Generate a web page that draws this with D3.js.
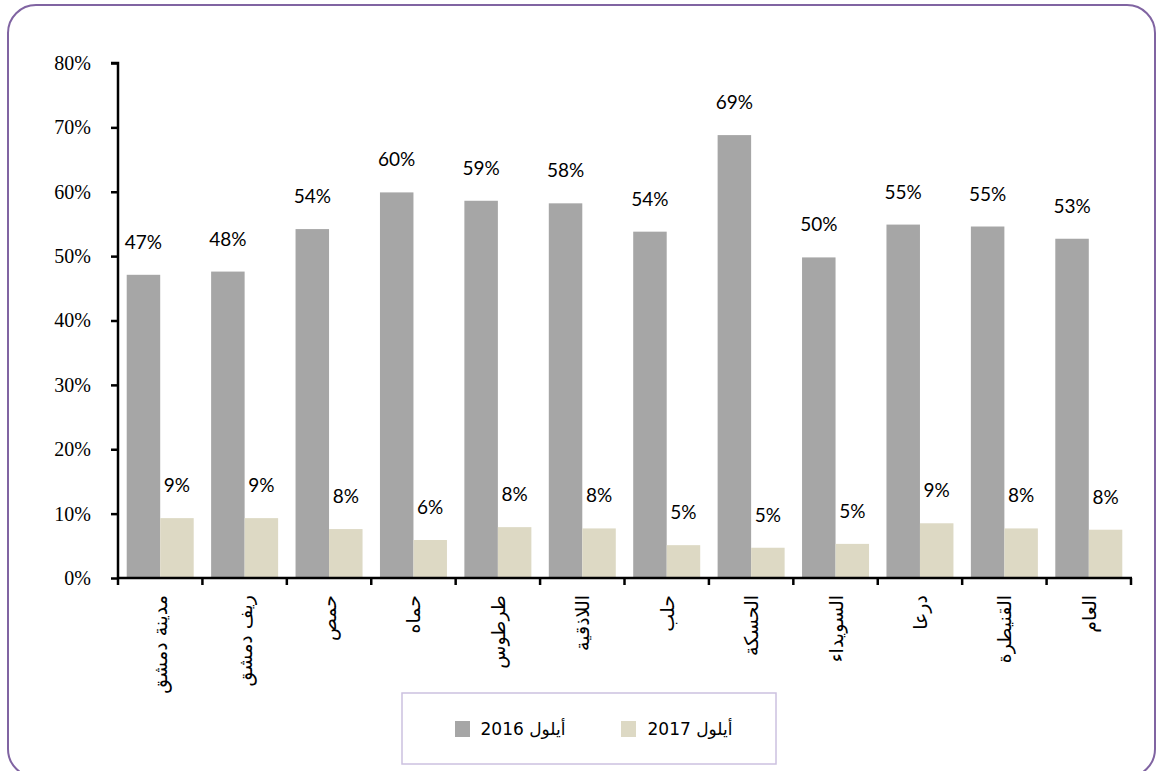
<!DOCTYPE html>
<html><head><meta charset="utf-8">
<script src="https://cdn.jsdelivr.net/npm/d3@7"></script>
<style>body{margin:0;background:#fff;}svg{display:block;}</style>
</head><body>
<script>
const categories = ["مدينة دمشق","ريف دمشق","حمص","حماه","طرطوس","اللاذقية","حلب","الحسكة","السويداء","درعا","القنيطرة","العام"];
const values2016 = [47.1, 47.6, 54.2, 59.9, 58.6, 58.2, 53.8, 68.8, 49.8, 54.9, 54.6, 52.7];
const values2017 = [9.3, 9.3, 7.6, 5.9, 7.9, 7.7, 5.1, 4.7, 5.3, 8.5, 7.7, 7.5];
const yTicks = [0,10,20,30,40,50,60,70,80];
const seriesNames = ["أيلول 2016","أيلول 2017"];
const colors = ["#a6a6a6","#ddd9c4"];

const W = 1156, H = 771;
const svg = d3.select("body").append("svg").attr("width", W).attr("height", H);

svg.append("rect").attr("x",8).attr("y",5).attr("width",1147).attr("height",772)
  .attr("rx",28).attr("ry",28).attr("fill","#fff").attr("stroke","#8064a2").attr("stroke-width",2);

const x0 = 118, x1 = 1131, y0 = 578, y1 = 63;
const x = d3.scaleBand().domain(categories).range([x0, x1]).paddingInner(0).paddingOuter(0);
const xs = d3.scaleBand().domain([0,1]).range([0, x.bandwidth()]).paddingInner(0).paddingOuter(0.26);
const y = d3.scaleLinear().domain([0,80]).range([y0, y1]);

// bars
const series = [values2016, values2017];
series.forEach((vals, si) => {
  svg.append("g").selectAll("rect").data(vals).join("rect")
    .attr("x", (d,i) => x(categories[i]) + xs(si))
    .attr("width", xs.bandwidth())
    .attr("y", d => y(d))
    .attr("height", d => y(0) - y(d))
    .attr("fill", colors[si]);
  svg.append("g").selectAll("text").data(vals).join("text")
    .attr("x", (d,i) => x(categories[i]) + xs(si) + xs.bandwidth()/2)
    .attr("y", d => y(d) - 26)
    .attr("text-anchor","middle")
    .attr("font-family","Lato, 'Open Sans', sans-serif")
    .attr("font-size", 19)
    .attr("fill","#000")
    .text(d => Math.round(d) + "%");
});

// y axis
const yAxis = svg.append("g").attr("transform", `translate(${x0},0)`)
  .call(d3.axisLeft(y).tickValues(yTicks).tickFormat(d => d + "%").tickSize(7).tickPadding(20));
yAxis.select(".domain").attr("stroke","#000").attr("stroke-width",2.5).attr("d", `M-7,${y1}H0V${y0}`);
yAxis.selectAll(".tick line").attr("stroke","#000").attr("stroke-width",2.5);
yAxis.selectAll(".tick text").attr("font-family","'Liberation Serif', 'DejaVu Serif', serif").attr("font-size",20).attr("fill","#000");

// x axis line and ticks at band boundaries
const xg = svg.append("g");
xg.append("line").attr("x1", x0-1).attr("x2", x1+1).attr("y1", y0).attr("y2", y0).attr("stroke","#000").attr("stroke-width",2.5);
const bounds = categories.map(c => x(c)).concat([x1]);
xg.selectAll("line.t").data(bounds).join("line").attr("class","t")
  .attr("x1", d => d).attr("x2", d => d).attr("y1", y0).attr("y2", y0+7)
  .attr("stroke","#000").attr("stroke-width",2.5);

xg.selectAll("text").data(categories).join("text")
  .attr("transform", d => `translate(${x(d) + x.bandwidth()/2 + 7},595) rotate(-90)`)
  .attr("text-anchor","end")
  .attr("font-family","'DejaVu Sans', sans-serif")
  .attr("font-size", 19)
  .attr("fill","#000")
  .text(d => d);

// legend
svg.append("rect").attr("x",402).attr("y",693).attr("width",374).attr("height",71)
  .attr("fill","#fff").attr("stroke","#ccc1e0").attr("stroke-width",1.5);
const legItems = [{sx:455, tx:523, name:seriesNames[0], c:colors[0]},{sx:621, tx:690, name:seriesNames[1], c:colors[1]}];
legItems.forEach(it => {
  svg.append("rect").attr("x", it.sx).attr("y", 721).attr("width",15).attr("height",16).attr("fill", it.c);
  svg.append("text").attr("x", it.tx).attr("y", 735).attr("text-anchor","middle")
    .attr("direction","rtl")
    .attr("font-family","'DejaVu Sans', sans-serif").attr("font-size",17).attr("fill","#000")
    .text(it.name);
});
</script>
</body></html>
